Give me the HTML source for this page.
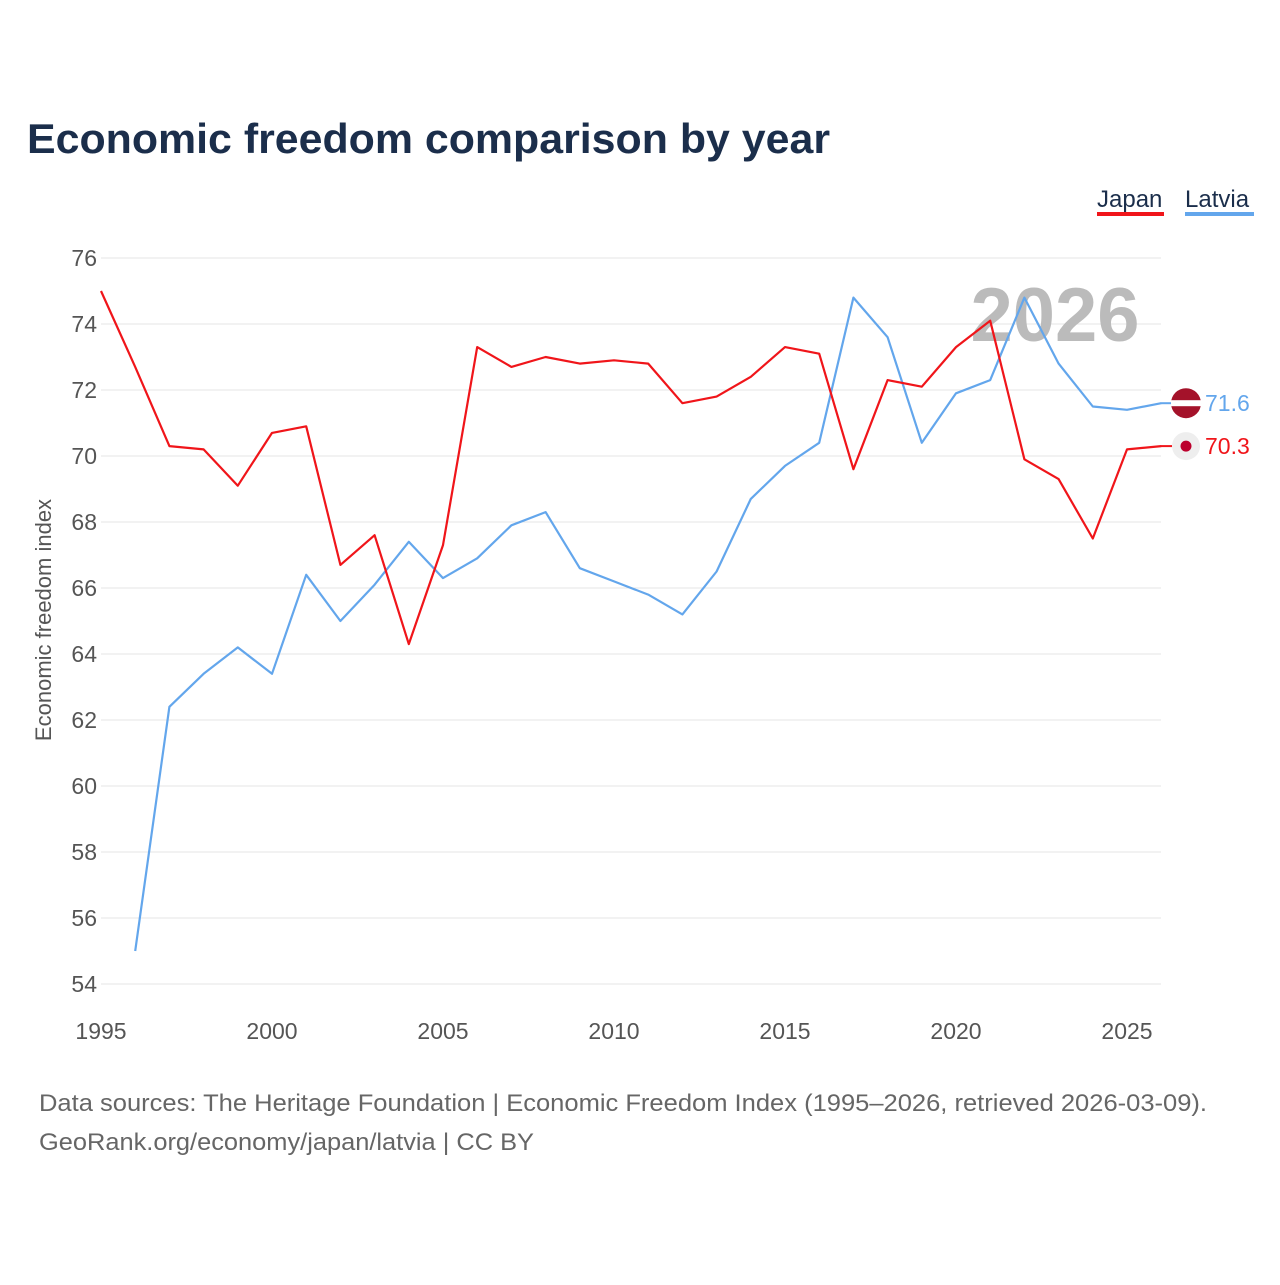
<!DOCTYPE html>
<html><head><meta charset="utf-8"><style>
body{margin:0;background:#fff;font-family:"Liberation Sans",sans-serif}
</style></head><body>
<svg width="1280" height="1280" xmlns="http://www.w3.org/2000/svg" id="svg">
<text x="27" y="153" font-size="42" font-weight="bold" fill="#1b2e4b" textLength="803" lengthAdjust="spacingAndGlyphs">Economic freedom comparison by year</text>
<g>
<text x="1097" y="207" font-size="24" fill="#1b2e4b">Japan</text>
<rect x="1097" y="212" width="67" height="4" fill="#f0151a"/>
<text x="1185" y="207" font-size="24" fill="#1b2e4b">Latvia</text>
<rect x="1185" y="212" width="69" height="4" fill="#63a6ec"/>
</g>
<g id="grid"></g>
<text x="1055" y="341" font-size="76" font-weight="bold" fill="#bbb" text-anchor="middle">2026</text>
<g id="lines"></g>
<text transform="translate(51,620) rotate(-90)" font-size="22" fill="#555" text-anchor="middle">Economic freedom index</text>
<text x="39" y="1111" font-size="24" fill="#666" textLength="1168" lengthAdjust="spacingAndGlyphs">Data sources: The Heritage Foundation | Economic Freedom Index (1995–2026, retrieved 2026-03-09).</text>
<text x="39" y="1150" font-size="24" fill="#666" textLength="495" lengthAdjust="spacingAndGlyphs">GeoRank.org/economy/japan/latvia | CC BY</text>
</svg>
<script>
const years=[];for(let y=1995;y<=2026;y++)years.push(y);
const japan=[75.0,72.7,70.3,70.2,69.1,70.7,70.9,66.7,67.6,64.3,67.3,73.3,72.7,73.0,72.8,72.9,72.8,71.6,71.8,72.4,73.3,73.1,69.6,72.3,72.1,73.3,74.1,69.9,69.3,67.5,70.2,70.3];
const latvia=[null,55.0,62.4,63.4,64.2,63.4,66.4,65.0,66.1,67.4,66.3,66.9,67.9,68.3,66.6,66.2,65.8,65.2,66.5,68.7,69.7,70.4,74.8,73.6,70.4,71.9,72.3,74.8,72.8,71.5,71.4,71.6];
const yTicks=[54,56,58,60,62,64,66,68,70,72,74,76];
const xTicks=[1995,2000,2005,2010,2015,2020,2025];
const NS="http://www.w3.org/2000/svg";
const X=v=>101+(v-1995)*(1127-101)/30;
const Y=v=>258+(76-v)*(984-258)/22;
function mk(t,a,p){const e=document.createElementNS(NS,t);for(const k in a)e.setAttribute(k,a[k]);p.appendChild(e);return e;}
const grid=document.getElementById('grid'),lines=document.getElementById('lines');
yTicks.forEach(v=>{
 const l=mk('line',{x1:101,x2:1161,y1:Y(v),y2:Y(v),stroke:'#e6e6e6','stroke-width':1},grid);
 
 
 const t=mk('text',{x:97,y:Y(v)+8,'font-size':23,fill:'#555','text-anchor':'end'},grid);t.textContent=v;
 
 
});
xTicks.forEach(v=>{
 const t=mk('text',{x:X(v),y:1039,'font-size':23,fill:'#555','text-anchor':'middle'},grid);t.textContent=v;
 
 
});
function path(vals,color,name){
 let d='';vals.forEach((v,i)=>{if(v==null)return;d+=(d?'L':'M')+X(years[i]).toFixed(1)+','+Y(v).toFixed(1);});
 const p=mk('path',{d:d,fill:'none',stroke:color,'stroke-width':2.2,'stroke-linejoin':'round'},lines);
 
 
}
path(latvia,'#63a6ec','line-latvia');
path(japan,'#f0151a','line-japan');
function end(vals,color,name,flag){
 const v=vals[vals.length-1],y=Y(v);
 const g=mk('g',{},lines);
 
 
 mk('line',{x1:1161,x2:1172,y1:y,y2:y,stroke:color,'stroke-width':2},g);
 if(flag==='lv'){
  mk('circle',{cx:1186,cy:y,r:15,fill:'#a4122a'},g);
  mk('rect',{x:1171,y:y-3,width:30,height:6,fill:'#fff'},g);
 }else{
  mk('circle',{cx:1186,cy:y,r:14,fill:'#eee'},g);
  mk('circle',{cx:1186,cy:y,r:5.5,fill:'#bc002d'},g);
 }
 const t=mk('text',{x:1205,y:y+8,'font-size':23,fill:color},g);t.textContent=v.toFixed(1);
}
end(latvia,'#63a6ec','end-label-latvia','lv');
end(japan,'#f0151a','end-label-japan','jp');
</script>
</body></html>
